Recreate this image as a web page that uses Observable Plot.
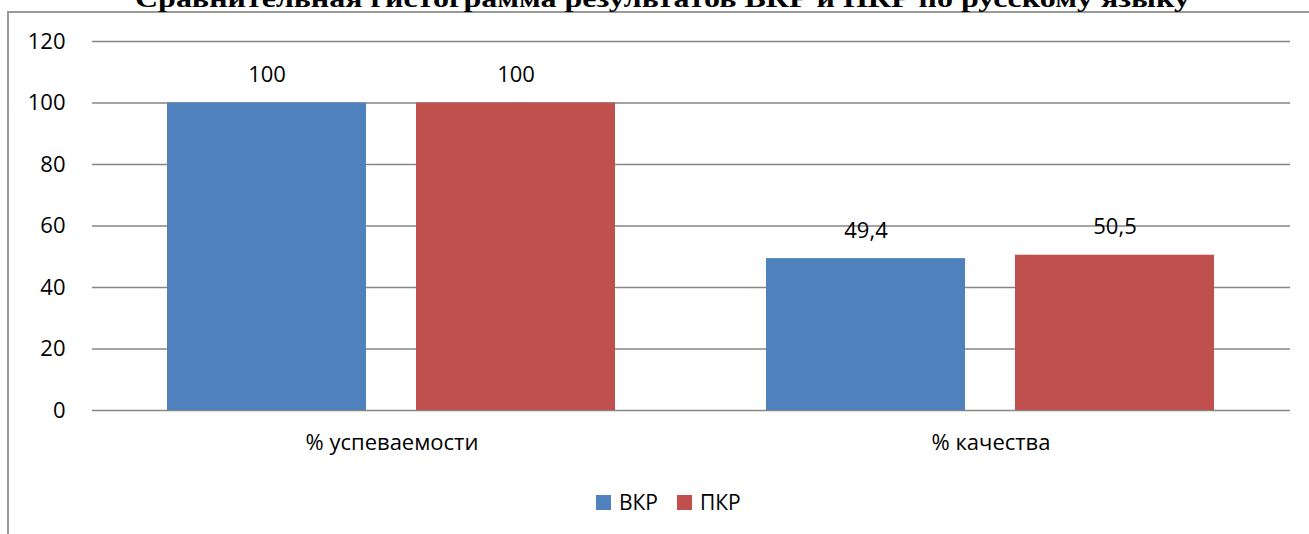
<!DOCTYPE html>
<html><head><meta charset="utf-8">
<script src="https://cdn.jsdelivr.net/npm/d3@7"></script>
<script src="https://cdn.jsdelivr.net/npm/@observablehq/plot@0.6"></script>
<style>
html,body{margin:0;padding:0;background:#fff;}
#wrap{position:relative;width:1309px;height:534px;overflow:hidden;background:#fff;font-family:"Open Sans",sans-serif;}
#chart{position:absolute;left:0;top:0;}
#frame{position:absolute;left:7px;top:11px;width:1400px;height:600px;border-left:2px solid #9a9a9a;border-top:2px solid #9a9a9a;pointer-events:none;}
#title{position:absolute;left:135px;top:-14px;font:bold 26px "Liberation Serif","Times New Roman",serif;line-height:26px;white-space:nowrap;color:#000;transform-origin:left center;}
.leg{position:absolute;top:491px;font-size:21px;line-height:22px;color:#000;display:flex;align-items:center;}
.sw{width:15px;height:15px;display:inline-block;margin-right:8px;}
</style></head>
<body>
<div id="wrap">
  <div id="chart"></div>
  <div id="frame"></div>
  <div id="title">Сравнительная гистограмма результатов ВКР и ПКР по русскому языку</div>
  <div id="legend"></div>
</div>
<script>
const categories = ["% успеваемости", "% качества"];
const seriesNames = ["ВКР", "ПКР"];
const vkrValues = [100, 49.4];
const pkrValues = [100, 50.5];
const yTicks = [0, 20, 40, 60, 80, 100, 120];
const seriesColors = ["#4F81BD", "#C0504D"];

const data = categories.flatMap((c, i) => [
  {category: c, series: seriesNames[0], value: vkrValues[i]},
  {category: c, series: seriesNames[1], value: pkrValues[i]}
]);
const fmt = v => String(v).replace(".", ",");

const chart = Plot.plot({
  width: 1309, height: 470,
  marginTop: 41, marginBottom: 60, marginLeft: 92, marginRight: 19,
  style: {fontFamily: '"Open Sans", sans-serif', fontSize: "22px", color: "#000", background: "transparent", overflow: "visible"},
  fx: {domain: categories, paddingInner: 0, paddingOuter: 0, label: null, tickSize: 0, tickPadding: 24, axis: "bottom"},
  x: {domain: seriesNames, paddingInner: 0.2, paddingOuter: 0.302, axis: null},
  y: {domain: [0, 120], ticks: yTicks, tickSize: 0, tickPadding: 27, label: null},
  color: {domain: seriesNames, range: seriesColors},
  marks: [
    Plot.ruleY(yTicks, {stroke: "#868686", strokeWidth: 1.5}),
    Plot.barY(data, {fx: "category", x: "series", y: "value", fill: "series"}),
    Plot.text(data, {fx: "category", x: "series", y: "value", text: d => fmt(d.value), dy: -28, fontSize: 22, fill: "#000"})
  ]
});
document.getElementById("chart").appendChild(chart);

// legend
const legend = document.getElementById("legend");
const legLeft = [596, 677];
seriesNames.forEach((s, i) => {
  const item = document.createElement("div");
  item.className = "leg";
  item.style.left = legLeft[i] + "px";
  const sw = document.createElement("span");
  sw.className = "sw";
  sw.style.background = seriesColors[i];
  item.appendChild(sw);
  item.appendChild(document.createTextNode(s));
  legend.appendChild(item);
});

// title width fit
const t = document.getElementById("title");
const w = t.getBoundingClientRect().width;
t.style.transform = `scaleX(${1055 / w})`;
</script>
</body></html>
